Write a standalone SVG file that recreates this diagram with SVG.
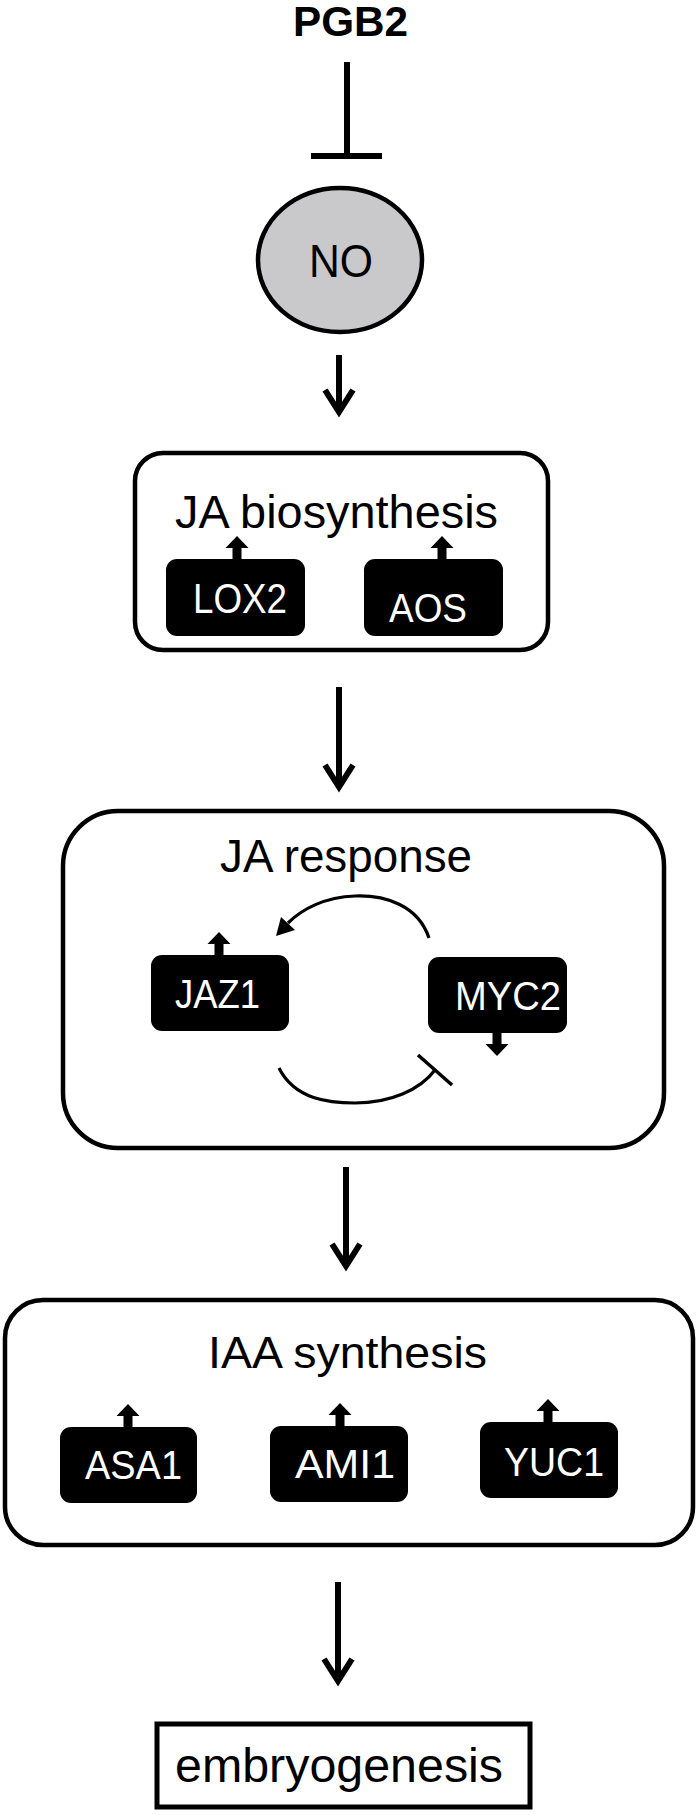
<svg xmlns="http://www.w3.org/2000/svg" xmlns:xlink="http://www.w3.org/1999/xlink" width="700" height="1815" viewBox="0 0 700 1815">
<style>
text{font-family:"Liberation Sans",Arial,sans-serif;}
.lbl{fill:#000;}
.gene{fill:#fff;}
.box{fill:#fff;stroke:#000;stroke-width:4.5;}
.gbox{fill:#000;}
.conn{fill:none;stroke:#000;stroke-width:6;stroke-linejoin:miter;stroke-miterlimit:10;}
.thin{fill:none;stroke:#000;stroke-width:3.2;}
</style>
<defs>
<path id="up" d="M-4.5,1 V-11 H-11.5 L0,-23 L11.5,-11 H4.5 V1 Z" fill="#000"/>
</defs>

<g id="pgb2">
<text x="293" y="36" font-size="43" font-weight="bold" textLength="115" lengthAdjust="spacingAndGlyphs">PGB2</text>
</g>

<g id="no">
<ellipse cx="340" cy="260" rx="82" ry="72" fill="#c9c9cb" stroke="#000" stroke-width="4.5"/>
<text x="309" y="277" font-size="46" textLength="64" lengthAdjust="spacingAndGlyphs">NO</text>
</g>

<g id="ja-biosynthesis">
<rect class="box" x="135" y="453" width="413" height="197" rx="28"/>
<text x="175" y="528" font-size="46" textLength="323" lengthAdjust="spacingAndGlyphs">JA biosynthesis</text>
<g id="lox2">
<rect class="gbox" x="166" y="559" width="139" height="77" rx="11"/>
<text class="gene" x="193" y="613" font-size="43" textLength="94" lengthAdjust="spacingAndGlyphs">LOX2</text>
<use xlink:href="#up" x="237" y="559"/>
</g>
<g id="aos">
<rect class="gbox" x="364" y="559" width="139" height="77" rx="11"/>
<text class="gene" x="389" y="622" font-size="41" textLength="78" lengthAdjust="spacingAndGlyphs">AOS</text>
<use xlink:href="#up" x="442" y="559"/>
</g>
</g>

<g id="ja-response">
<rect class="box" x="63" y="811" width="601" height="337" rx="55"/>
<text x="220" y="872" font-size="46" textLength="252" lengthAdjust="spacingAndGlyphs">JA response</text>
<g id="jaz1">
<rect class="gbox" x="151" y="955" width="138" height="76" rx="11"/>
<text class="gene" x="175" y="1008" font-size="41" textLength="85" lengthAdjust="spacingAndGlyphs">JAZ1</text>
<use xlink:href="#up" x="219" y="955"/>
</g>
<g id="myc2">
<rect class="gbox" x="428" y="957" width="139" height="76" rx="11"/>
<text class="gene" x="455" y="1010" font-size="41" textLength="106" lengthAdjust="spacingAndGlyphs">MYC2</text>
<use xlink:href="#up" transform="translate(497,1033) scale(1,-1)"/>
</g>
</g>

<g id="iaa-synthesis">
<rect class="box" x="5" y="1300" width="688" height="245" rx="38"/>
<text x="208" y="1368" font-size="44" textLength="279" lengthAdjust="spacingAndGlyphs">IAA synthesis</text>
<g id="asa1">
<rect class="gbox" x="60" y="1427" width="137" height="76" rx="11"/>
<text class="gene" x="85" y="1479" font-size="41" textLength="97" lengthAdjust="spacingAndGlyphs">ASA1</text>
<use xlink:href="#up" x="128" y="1427"/>
</g>
<g id="ami1">
<rect class="gbox" x="270" y="1426" width="138" height="76" rx="11"/>
<text class="gene" x="295" y="1478" font-size="41" textLength="100" lengthAdjust="spacingAndGlyphs">AMI1</text>
<use xlink:href="#up" x="340" y="1426"/>
</g>
<g id="yuc1">
<rect class="gbox" x="480" y="1422" width="138" height="76" rx="11"/>
<text class="gene" x="504" y="1476" font-size="41" textLength="100" lengthAdjust="spacingAndGlyphs">YUC1</text>
<use xlink:href="#up" x="548" y="1422"/>
</g>
</g>

<g id="embryogenesis">
<rect x="157" y="1724" width="373" height="83" fill="#fff" stroke="#000" stroke-width="5"/>
<text x="175" y="1782" font-size="47.5" textLength="328" lengthAdjust="spacingAndGlyphs">embryogenesis</text>
</g>

<g id="connectors">
<path class="conn" d="M347,62 V156 M311,156 H382"/>
<path class="conn" d="M339,355 V410 M325,390 L339,412 L353,390"/>
<path class="conn" d="M339,687 V785 M325,765 L339,787 L353,765"/>
<path class="conn" d="M346,1167 V1264 M332,1244 L346,1266 L360,1244"/>
<path class="conn" d="M338,1582 V1679 M324,1659 L338,1681 L352,1659"/>
<path class="thin" d="M429,938 C418,905 385,895 355,896 C325,897 302,909 288,923"/>
<polygon points="276,936 281,917 295,930" fill="#000"/>
<path class="thin" d="M279,1068 C295,1100 330,1103 355,1103 C390,1103 420,1090 435,1070"/>
<line x1="418" y1="1055" x2="452" y2="1085" stroke="#000" stroke-width="3.5"/>
</g>
</svg>
